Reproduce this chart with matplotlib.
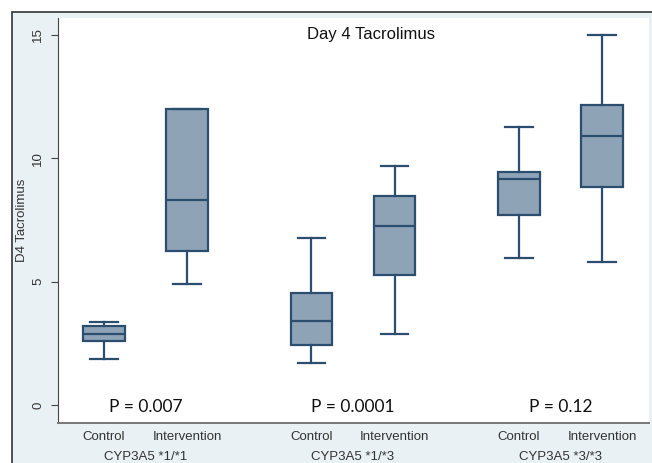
import matplotlib
matplotlib.use('Agg')
import matplotlib.pyplot as plt
from matplotlib.patches import Rectangle

# values (D4 tacrolimus)
groups = ['CYP3A5 *1/*1', 'CYP3A5 *1/*3', 'CYP3A5 *3/*3']
arms = ['Control', 'Intervention']
p_values = ['P = 0.007', 'P = 0.0001', 'P = 0.12']

whislo = [1.88, 4.9, 1.72, 2.87, 5.96, 5.8]
q1 = [2.61, 6.23, 2.43, 5.29, 7.7, 8.83]
med = [2.89, 8.3, 3.39, 7.25, 9.15, 10.9]
q3 = [3.2, 12.0, 4.56, 8.46, 9.45, 12.15]
whishi = [3.35, 12.0, 6.77, 9.68, 11.27, 15.0]

positions = [0, 1, 2.5, 3.5, 5, 6]

edge = '#2b4d6e'
fill = '#8fa3b7'
txt = '#333333'

fig = plt.figure(figsize=(6.52, 4.63), dpi=100)
fig.patch.set_facecolor('white')

# light blue outer frame like the Stata graph region
frame = Rectangle((12 / 652, -0.05), 1.0, 1 - 12 / 463 + 0.05,
                  transform=fig.transFigure, facecolor='#e9f1f4',
                  edgecolor='#333333', linewidth=1.2, zorder=-5)
fig.patches.append(frame)

ax = fig.add_axes([58 / 652, 40 / 463, 591 / 652, 405 / 463])
ax.set_zorder(2)
ax.set_facecolor('white')

stats = []
for i in range(len(positions)):
    stats.append({'whislo': whislo[i], 'q1': q1[i], 'med': med[i],
                  'q3': q3[i], 'whishi': whishi[i], 'fliers': []})

ax.bxp(stats, positions=positions, widths=0.5, patch_artist=True,
       showfliers=False,
       boxprops=dict(facecolor=fill, edgecolor=edge, linewidth=1.6),
       medianprops=dict(color=edge, linewidth=1.6),
       whiskerprops=dict(color=edge, linewidth=1.6),
       capprops=dict(color=edge, linewidth=1.6), capwidths=0.33)

ax.set_xlim(-0.554, 6.566)
ax.set_ylim(-0.73, 15.69)

ax.spines['top'].set_visible(False)
ax.spines['right'].set_visible(False)
ax.spines['left'].set_color('#444444')
ax.spines['bottom'].set_color('#777777')
ax.spines['bottom'].set_linewidth(1.4)

ax.set_yticks([0, 5, 10, 15])
ax.set_yticklabels(['0', '5', '10', '15'], rotation=90, va='center',
                   fontsize=9.5, color=txt, family='Liberation Sans')
ax.tick_params(axis='y', length=5, color='#444444', pad=5)

ax.set_xticks(positions)
ax.set_xticklabels(arms * 3, fontsize=9.5, color=txt, family='Liberation Sans')
ax.tick_params(axis='x', length=0, pad=6)

ax.set_ylabel('D4 Tacrolimus', fontsize=9.5, color=txt, family='Liberation Sans',
              labelpad=3)

ax.text(0.53, 0.977, 'Day 4 Tacrolimus', transform=ax.transAxes, ha='center',
        va='top', fontsize=12, color='#111111', family='Liberation Sans')

for g in range(3):
    xc = (positions[2 * g] + positions[2 * g + 1]) / 2
    ax.text(xc, -0.1, p_values[g], ha='center', va='center', fontsize=12.5,
            color='#111111', family='Lato')
    ax.annotate(groups[g], xy=(xc, 0), xycoords=('data', 'axes fraction'),
                xytext=(0, -20), textcoords='offset points', ha='center',
                va='top', fontsize=9.5, color=txt, family='Liberation Sans',
                annotation_clip=False)

fig.savefig('out.png', dpi=100)
